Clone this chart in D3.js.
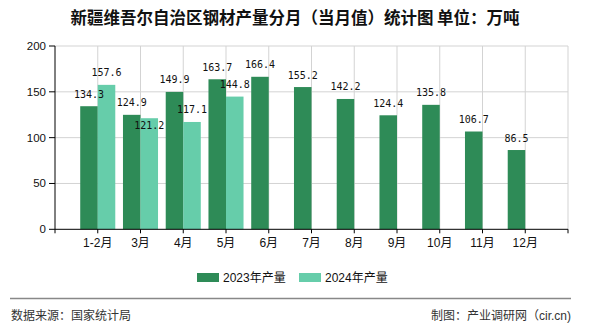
<!DOCTYPE html>
<html><head><meta charset="utf-8">
<script src="https://cdn.jsdelivr.net/npm/d3@7"></script>
<style>body{margin:0;background:#fff}svg{display:block}</style>
</head><body><svg id="c" width="590" height="330"></svg>
<script>
const categories = ["1-2月","3月","4月","5月","6月","7月","8月","9月","10月","11月","12月"];
const values2023 = [134.3,124.9,149.9,163.7,166.4,155.2,142.2,124.4,135.8,106.7,86.5];
const values2024 = [157.6,121.2,117.1,144.8,null,null,null,null,null,null,null];
const seriesNames = ["2023年产量","2024年产量"];
const yTicks = [0,50,100,150,200];
const colors = ["#2e8b57","#66cdaa"];

const svg = d3.select("#c");
const L=55, R=568, T=46, B=229.3;
const x = d3.scalePoint().domain(categories).range([L,R]).padding(1);
const y = d3.scaleLinear().domain([0,200]).range([B,T]);
const bw = x.step()*0.41;
const cjk = "'Liberation Sans','Noto Sans CJK SC',sans-serif";

// title
svg.append("text").attr("x",295).attr("y",24).attr("text-anchor","middle")
  .attr("font-family","'Noto Sans CJK SC',sans-serif").attr("font-weight","bold").attr("font-size",16.5)
  .attr("fill","#111").text("新疆维吾尔自治区钢材产量分月（当月值）统计图 单位：万吨");

// grid
const g = svg.append("g");
g.selectAll("line.h").data(yTicks.slice(1)).join("line")
  .attr("x1",L).attr("x2",R).attr("y1",d=>y(d)).attr("y2",d=>y(d)).attr("stroke","#d3d3d3");
g.selectAll("line.v").data(categories.map(c=>x(c)).concat([R])).join("line").attr("class","v")
  .attr("x1",d=>d).attr("x2",d=>d).attr("y1",T).attr("y2",B).attr("stroke","#d3d3d3");

// bars
const series = [values2023, values2024];
series.forEach((vals,si)=>{
  svg.append("g").selectAll("rect").data(vals.map((v,i)=>({v,c:categories[i]})).filter(d=>d.v!=null)).join("rect")
    .attr("x",d=>x(d.c)-bw+si*bw).attr("width",bw)
    .attr("y",d=>y(d.v)).attr("height",d=>B-y(d.v)).attr("fill",colors[si]);
});

// labels
const lab = svg.append("g").attr("font-family","'DejaVu Sans Mono',monospace").attr("font-size",10).attr("fill","#111").attr("text-anchor","middle");
values2023.forEach((v,i)=>{
  lab.append("text").attr("x",x(categories[i])-bw/2).attr("y",y(v)-8.5).text(v.toFixed(1));
});
values2024.forEach((v,i)=>{
  if(v==null) return;
  let by = y(v)-8.5;
  const other = y(values2023[i])-8.5;
  if(Math.abs(by-other)<11) by = y(v)+11;
  lab.append("text").attr("x",x(categories[i])+bw/2).attr("y",by).text(v.toFixed(1));
});

// axes
const ax = svg.append("g").attr("stroke","#000");
ax.append("line").attr("x1",L).attr("x2",L).attr("y1",T).attr("y2",B);
ax.append("line").attr("x1",L).attr("x2",R).attr("y1",B).attr("y2",B);
yTicks.forEach(t=>{
  ax.append("line").attr("x1",L-6).attr("x2",L).attr("y1",y(t)).attr("y2",y(t));
});
[L].concat(categories.map(c=>x(c))).concat([R]).forEach(px=>{
  ax.append("line").attr("x1",px).attr("x2",px).attr("y1",B).attr("y2",B+4);
});
svg.append("g").selectAll("text").data(yTicks).join("text")
  .attr("x",L-9).attr("y",d=>y(d)+4).attr("text-anchor","end")
  .attr("font-family",cjk).attr("font-size",11.5).attr("fill","#111").text(d=>d);
svg.append("g").selectAll("text").data(categories).join("text")
  .attr("x",d=>x(d)).attr("y",247).attr("text-anchor","middle")
  .attr("font-family",cjk).attr("font-size",12).attr("fill","#111").text(d=>d);

// legend
const lg = svg.append("g");
const lx = [197,299];
seriesNames.forEach((n,i)=>{
  lg.append("rect").attr("x",lx[i]).attr("y",273).attr("width",22).attr("height",9).attr("fill",colors[i]);
  lg.append("text").attr("x",lx[i]+26).attr("y",281.5).attr("font-family",cjk).attr("font-size",12).attr("fill","#111").text(n);
});

// footer
svg.append("line").attr("x1",10).attr("x2",571).attr("y1",298.5).attr("y2",298.5).attr("stroke","#888").attr("stroke-width",1.5);
svg.append("text").attr("x",11).attr("y",320).attr("font-family",cjk).attr("font-size",12).attr("fill","#333").text("数据来源：国家统计局");
svg.append("text").attr("x",571).attr("y",320).attr("text-anchor","end").attr("font-family",cjk).attr("font-size",12).attr("fill","#333").text("制图：产业调研网（cir.cn)");
</script></body></html>
